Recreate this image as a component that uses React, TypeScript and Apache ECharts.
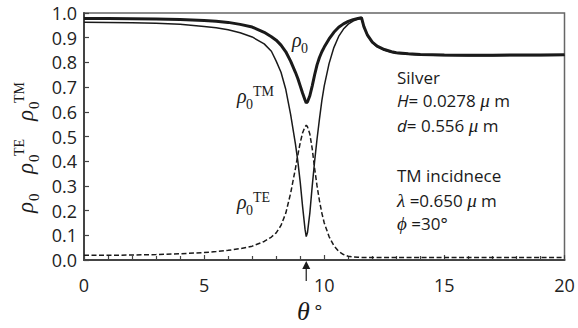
import React, { useEffect, useRef } from "react";
import * as echarts from "echarts";

// angle of incidence (degrees)
const thetaValues = [
  0, 1, 2, 3, 4, 5, 5.5, 6, 6.5, 7, 7.5, 7.8, 8.0, 8.2, 8.4, 8.6, 8.8, 8.9, 9.0, 9.1, 9.2, 9.25,
  9.3, 9.4, 9.5, 9.6, 9.7, 9.8, 9.9, 10.0, 10.2, 10.4, 10.6, 10.8, 11.0, 11.2, 11.4, 11.55, 11.65,
  11.8, 12.0, 12.2, 12.5, 12.8, 13.0, 13.5, 14, 15, 16, 17, 18, 19, 20,
];

// total reflectance rho0 (thick)
const rho0Values = [
  0.978, 0.978, 0.977, 0.976, 0.974, 0.97, 0.967, 0.962, 0.954, 0.943, 0.922, 0.904, 0.89, 0.87,
  0.843, 0.805, 0.76, 0.735, 0.705, 0.675, 0.648, 0.636, 0.64, 0.665, 0.705, 0.75, 0.79, 0.82,
  0.843, 0.862, 0.895, 0.922, 0.942, 0.956, 0.966, 0.973, 0.978, 0.981, 0.945, 0.91, 0.882, 0.866,
  0.852, 0.843, 0.839, 0.835, 0.832, 0.83, 0.829, 0.829, 0.83, 0.83, 0.831,
];

// TM reflectance (thin solid)
const tmValues = [
  0.963, 0.962, 0.961, 0.958, 0.954, 0.945, 0.94, 0.932, 0.92, 0.903, 0.875, 0.845, 0.805, 0.76,
  0.69, 0.59, 0.47, 0.4, 0.315, 0.215, 0.125, 0.095, 0.11, 0.19, 0.3, 0.4, 0.49, 0.57, 0.645, 0.705,
  0.795, 0.86, 0.905, 0.935, 0.955, 0.967, 0.975, 0.979, 0.943, 0.908, 0.88, 0.864, 0.85, 0.841,
  0.837, 0.833, 0.83, 0.828, 0.827, 0.827, 0.828, 0.828, 0.829,
];

// TE reflectance (dashed)
const teValues = [
  0.019, 0.019, 0.02, 0.022, 0.025, 0.03, 0.034, 0.039, 0.046, 0.056, 0.075, 0.093, 0.11, 0.14,
  0.19, 0.27, 0.37, 0.425, 0.475, 0.515, 0.54, 0.545, 0.54, 0.51, 0.45, 0.37, 0.3, 0.24, 0.19, 0.15,
  0.095, 0.058, 0.035, 0.022, 0.015, 0.012, 0.011, 0.01, 0.01, 0.01, 0.01, 0.01, 0.01, 0.01, 0.01,
  0.01, 0.01, 0.01, 0.01, 0.01, 0.01, 0.01, 0.01,
];

const markerTheta = 9.25;

const annotationLines = [
  "Silver",
  "{i|H}{n|= 0.0278 }{mu|μ}{n| m}",
  "{i|d}{n|= 0.556 }{mu|μ}{n| m}",
  "TM incidnece",
  "{g|λ}{n| =0.650 }{mu|μ}{n| m}",
  "{g|ϕ}{n| =30°}",
];
const annotationY = [77, 100, 125, 175, 200, 223];

const SANS = "'Open Sans', 'DejaVu Sans', sans-serif";
const SERIF = "'Liberation Serif', 'DejaVu Serif', serif";
const INK = "#1a1a1a";

function rhoLabel(x: number, y: number, sup: string | null, rotate: boolean, big: boolean) {
  const rs = big ? 23 : 20;
  const ss = big ? 15 : 14;
  const children: any[] = [
    {
      type: "text",
      x: 0,
      y: rotate ? -4 : 0,
      style: { text: "ρ", fontFamily: SERIF, fontStyle: "italic", fontSize: rs, fill: INK, align: "left", verticalAlign: "middle" },
    },
    {
      type: "text",
      x: big ? 12 : 9,
      y: rotate ? 5 : 8,
      style: { text: "0", fontFamily: SERIF, fontSize: ss, fill: INK, align: "left", verticalAlign: "middle" },
    },
  ];
  if (sup) {
    children.push({
      type: "text",
      x: big ? 18 : 16,
      y: rotate ? -10 : -5,
      style: { text: sup, fontFamily: SERIF, fontSize: big ? 14 : 14, fill: INK, align: "left", verticalAlign: "middle" },
    });
  }
  return { type: "group", x, y, rotation: rotate ? Math.PI / 2 : 0, children };
}

export default function App() {
  const ref = useRef<HTMLDivElement>(null);
  useEffect(() => {
    const chart = echarts.init(ref.current!, null, { renderer: "svg" });
    const pair = (vals: number[]) => thetaValues.map((t, i) => [t, vals[i]]);
    chart.setOption({
      animation: false,
      backgroundColor: "#ffffff",
      grid: {
        left: 84,
        right: 13.5,
        top: 13,
        bottom: 68,
        show: true,
        borderColor: "#666",
        borderWidth: 1.5,
        backgroundColor: "transparent",
      },
      xAxis: {
        type: "value",
        min: 0,
        max: 20,
        interval: 5,
        axisLine: { show: true, lineStyle: { color: "#444", width: 2 } },
        axisTick: { show: true, inside: true, length: 5, lineStyle: { color: "#444", width: 1.2 } },
        minorTick: { show: true, splitNumber: 5, length: 4, lineStyle: { color: "#444", width: 1.2 } },
        splitLine: { show: false },
        axisLabel: { fontFamily: SANS, fontSize: 18, color: "#222", margin: 16 },
      },
      yAxis: {
        type: "value",
        min: 0,
        max: 1,
        interval: 0.1,
        axisLine: { show: true, lineStyle: { color: "#444", width: 2 } },
        axisTick: { show: true, inside: true, length: 5, lineStyle: { color: "#444", width: 1.2 } },
        splitLine: { show: false },
        axisLabel: {
          fontFamily: SANS,
          fontSize: 18,
          color: "#222",
          margin: 7,
          formatter: (v: number) => v.toFixed(1),
        },
      },
      series: [
        {
          name: "TE",
          type: "line",
          data: pair(teValues),
          showSymbol: false,
          lineStyle: { color: INK, width: 1.5, type: [5, 2.5] },
        },
        {
          name: "TM",
          type: "line",
          data: pair(tmValues),
          showSymbol: false,
          lineStyle: { color: INK, width: 1.5 },
        },
        {
          name: "rho0",
          type: "line",
          data: pair(rho0Values),
          showSymbol: false,
          lineStyle: { color: INK, width: 3 },
        },
      ],
    });

    const mx = chart.convertToPixel({ xAxisIndex: 0 }, markerTheta) as number;
    const y0 = chart.convertToPixel({ yAxisIndex: 0 }, 0) as number;

    chart.setOption({
      graphic: [
        // y-axis names (rotated)
        rhoLabel(29, 213, null, true, true),
        rhoLabel(29, 174, "TE", true, true),
        rhoLabel(29, 121, "TM", true, true),
        // in-plot labels
        rhoLabel(292, 40, null, false, false),
        rhoLabel(237, 96, "TM", false, false),
        rhoLabel(237, 202, "TE", false, false),
        // annotation text
        ...annotationLines.map((t, i) => ({
          type: "text",
          x: 397,
          y: annotationY[i],
          style: {
            text: t,
            fontFamily: SANS,
            fontSize: 17,
            fill: INK,
            align: "left",
            verticalAlign: "middle",
            rich: {
              n: { fontFamily: SANS, fontSize: 17, fill: INK },
              i: { fontFamily: SANS, fontStyle: "italic", fontSize: 17, fill: INK },
              mu: { fontFamily: SERIF, fontStyle: "italic", fontSize: 19, fill: INK },
              g: { fontFamily: SERIF, fontStyle: "italic", fontSize: 19, fill: INK },
            },
          },
        })),
        // x-axis title
        {
          type: "text",
          x: 297,
          y: 311,
          style: {
            text: "{t|θ}{d| °}",
            align: "left",
            verticalAlign: "middle",
            rich: {
              t: { fontFamily: SERIF, fontStyle: "italic", fontSize: 26, fill: INK },
              d: { fontFamily: SANS, fontSize: 18, fill: INK },
            },
          },
        },
        // arrow marker under the resonance
        {
          type: "polygon",
          shape: { points: [[mx, y0 + 1], [mx - 4, y0 + 9], [mx + 4, y0 + 9]] },
          style: { fill: INK },
        },
        {
          type: "line",
          shape: { x1: mx, y1: y0 + 8, x2: mx, y2: y0 + 21 },
          style: { stroke: INK, lineWidth: 1.2 },
        },
      ],
    });

    return () => chart.dispose();
  }, []);
  return <div ref={ref} style={{ position: "fixed", left: 0, top: 0, width: 578, height: 328 }} />;
}
